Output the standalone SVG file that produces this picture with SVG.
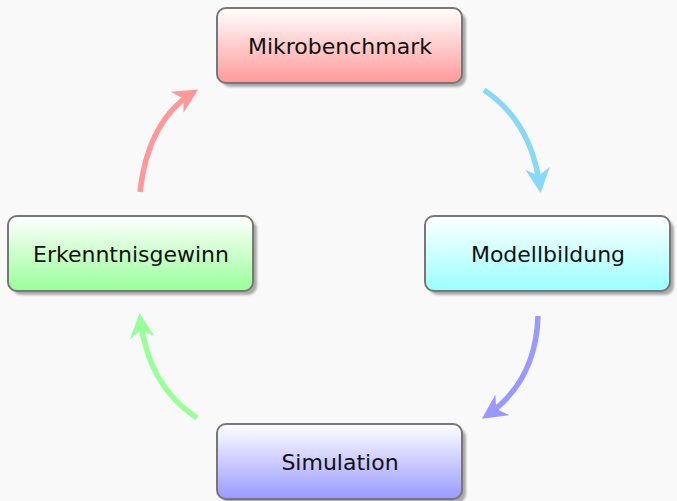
<svg xmlns="http://www.w3.org/2000/svg" width="677" height="501" viewBox="0 0 677 501">
<defs>
<style>
.box{stroke:#777;stroke-width:2}
.shadow{fill:#aaa}
.lbl{font-family:"DejaVu Sans","Liberation Sans",Arial,sans-serif;font-size:22px;fill:#111;text-anchor:middle}
.arr{fill:none;stroke-width:5.5}
</style>
<linearGradient id="gr" x1="0" y1="0" x2="0" y2="1"><stop offset="0" stop-color="#fff"/><stop offset="1" stop-color="#ff9999"/></linearGradient>
<linearGradient id="gc" x1="0" y1="0" x2="0" y2="1"><stop offset="0" stop-color="#fff"/><stop offset="1" stop-color="#99ffff"/></linearGradient>
<linearGradient id="gg" x1="0" y1="0" x2="0" y2="1"><stop offset="0" stop-color="#fff"/><stop offset="1" stop-color="#99ff99"/></linearGradient>
<linearGradient id="gb" x1="0" y1="0" x2="0" y2="1"><stop offset="0" stop-color="#fff"/><stop offset="1" stop-color="#9999ff"/></linearGradient>
<filter id="blur" x="-10%" y="-10%" width="120%" height="130%"><feGaussianBlur stdDeviation="1"/></filter>
<marker id="mr" viewBox="0 0 10 10" refX="8" refY="5" markerWidth="4.5" markerHeight="4.5" orient="auto" markerUnits="strokeWidth"><path d="M0,0 L10,5 L0,10 L3,5 Z" fill="#ff9999"/></marker>
<marker id="mc" viewBox="0 0 10 10" refX="8" refY="5" markerWidth="4.5" markerHeight="4.5" orient="auto" markerUnits="strokeWidth"><path d="M0,0 L10,5 L0,10 L3,5 Z" fill="#88d8f8"/></marker>
<marker id="mb" viewBox="0 0 10 10" refX="8" refY="5" markerWidth="4.5" markerHeight="4.5" orient="auto" markerUnits="strokeWidth"><path d="M0,0 L10,5 L0,10 L3,5 Z" fill="#9999ff"/></marker>
<marker id="mg" viewBox="0 0 10 10" refX="8" refY="5" markerWidth="4.5" markerHeight="4.5" orient="auto" markerUnits="strokeWidth"><path d="M0,0 L10,5 L0,10 L3,5 Z" fill="#99ff99"/></marker>
</defs>
<rect width="677" height="501" fill="#f9f9f9"/>
<g id="connectors">
<path class="arr" stroke="#ff9999" marker-end="url(#mr)" d="M140,192 Q148,120 194,92"/>
<path class="arr" stroke="#88d8f8" marker-end="url(#mc)" d="M484,90 Q532,122 540,188"/>
<path class="arr" stroke="#9999ff" marker-end="url(#mb)" d="M538,316 Q536,382 486,416"/>
<path class="arr" stroke="#99ff99" marker-end="url(#mg)" d="M197,418 Q148,386 140,318"/>
</g>
<g id="mikrobenchmark">
<rect class="shadow" filter="url(#blur)" x="221" y="12" width="245" height="75" rx="9"/>
<rect class="box" fill="url(#gr)" x="217" y="8" width="245" height="75" rx="9"/>
<text class="lbl" x="340" y="54">Mikrobenchmark</text>
</g>
<g id="modellbildung">
<rect class="shadow" filter="url(#blur)" x="429" y="220" width="245" height="75" rx="9"/>
<rect class="box" fill="url(#gc)" x="425" y="216" width="245" height="75" rx="9"/>
<text class="lbl" x="548" y="262">Modellbildung</text>
</g>
<g id="erkenntnisgewinn">
<rect class="shadow" filter="url(#blur)" x="12" y="220" width="245" height="75" rx="9"/>
<rect class="box" fill="url(#gg)" x="8" y="216" width="245" height="75" rx="9"/>
<text class="lbl" x="131" y="262">Erkenntnisgewinn</text>
</g>
<g id="simulation">
<rect class="shadow" filter="url(#blur)" x="221" y="428" width="245" height="75" rx="9"/>
<rect class="box" fill="url(#gb)" x="217" y="424" width="245" height="75" rx="9"/>
<text class="lbl" x="340" y="470">Simulation</text>
</g>
</svg>
